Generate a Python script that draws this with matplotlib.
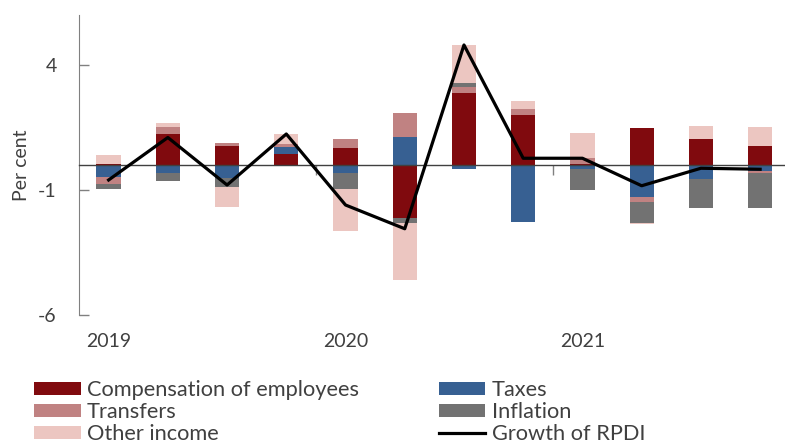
import matplotlib
matplotlib.use("Agg")
import matplotlib.pyplot as plt
import numpy as np

quarters = ["2019Q1", "2019Q2", "2019Q3", "2019Q4",
            "2020Q1", "2020Q2", "2020Q3", "2020Q4",
            "2021Q1", "2021Q2", "2021Q3", "2021Q4"]
year_labels = ["2019", "2020", "2021"]
year_positions = [0, 4, 8]

compensation = [0.05, 1.23, 0.77, 0.44, 0.69, -2.13, 2.89, 2.00, 0.05, 1.47, 1.03, 0.77]
taxes        = [-0.49, -0.33, -0.51, 0.29, -0.33, 1.13, -0.17, -2.29, -0.17, -1.27, -0.57, -0.24]
transfers    = [-0.27, 0.30, 0.10, 0.13, 0.35, 0.94, 0.24, 0.23, 0.25, -0.20, 0.00, -0.07]
inflation    = [-0.21, -0.30, -0.36, -0.05, -0.63, -0.20, 0.16, 0.03, -0.84, -0.83, -1.13, -1.40]
other_income = [0.36, 0.14, -0.80, 0.40, -1.68, -2.27, 1.51, 0.30, 0.98, -0.04, 0.55, 0.74]
rpdi_growth  = [-0.60, 1.10, -0.80, 1.24, -1.60, -2.55, 4.80, 0.27, 0.27, -0.83, -0.13, -0.17]

series = [
    ("Compensation of employees", compensation, "#800a0e"),
    ("Taxes", taxes, "#376092"),
    ("Transfers", transfers, "#c08282"),
    ("Inflation", inflation, "#727272"),
    ("Other income", other_income, "#ecc6c1"),
]

plt.rcParams['font.family'] = ['Lato', 'DejaVu Sans']
plt.rcParams['axes.unicode_minus'] = False
text_color = "#404040"

fig = plt.figure(figsize=(7.85, 4.44), dpi=100)
ax = fig.add_axes([79/785, (444-315)/444, 1 - 79/785, 300/444])

x = np.arange(len(quarters))
pos_base = np.zeros(len(x))
neg_base = np.zeros(len(x))
handles = {}
for name, vals, col in series:
    v = np.array(vals, dtype=float)
    pos = np.where(v > 0, v, 0)
    neg = np.where(v < 0, v, 0)
    h = ax.bar(x, pos, 0.41, bottom=pos_base, color=col, linewidth=0, label=name, zorder=2)
    ax.bar(x, neg, 0.41, bottom=neg_base, color=col, linewidth=0, zorder=2)
    pos_base += pos
    neg_base += neg
    handles[name] = h

line, = ax.plot(x, rpdi_growth, color="black", lw=2.3, zorder=4, label="Growth of RPDI")
handles["Growth of RPDI"] = line

ax.set_xlim(-0.5, 11.42)
ax.set_ylim(-6, 6)
ax.set_yticks([-6, -1, 4])
ax.tick_params(axis='y', direction='in', length=7, width=1, color='#808080',
               labelsize=14, labelcolor=text_color, pad=16)
for s in ['top', 'right']:
    ax.spines[s].set_visible(False)
ax.spines['left'].set_color('#808080')
ax.spines['bottom'].set_position(('data', 0))
ax.spines['bottom'].set_color('#404040')
ax.spines['bottom'].set_linewidth(1)
ax.spines['bottom'].set_zorder(3)
ax.set_xticks([3.5, 7.5])
ax.set_xticklabels([])
ax.tick_params(axis='x', direction='out', length=7, width=1, color='#808080')

sec = ax.secondary_xaxis('bottom')
sec.spines['bottom'].set_visible(False)
sec.set_xticks(year_positions)
sec.set_xticklabels(year_labels)
sec.tick_params(axis='x', length=0, labelsize=14, labelcolor=text_color, pad=13)

ax.set_ylabel("Per cent", fontsize=14, color=text_color, labelpad=6)

order = ["Compensation of employees", "Transfers", "Other income",
         "Taxes", "Inflation", "Growth of RPDI"]
leg = fig.legend([handles[k] for k in order], order, loc='upper left',
                 bbox_to_anchor=(34/785, (444-380)/444), ncol=2, frameon=False,
                 fontsize=15.7, handlelength=2.15, handleheight=0.53, handletextpad=0.28,
                 labelspacing=0.1, columnspacing=3.65, borderpad=0, borderaxespad=0)
for t in leg.get_texts():
    t.set_color(text_color)

fig.savefig("out.png", dpi=100)
